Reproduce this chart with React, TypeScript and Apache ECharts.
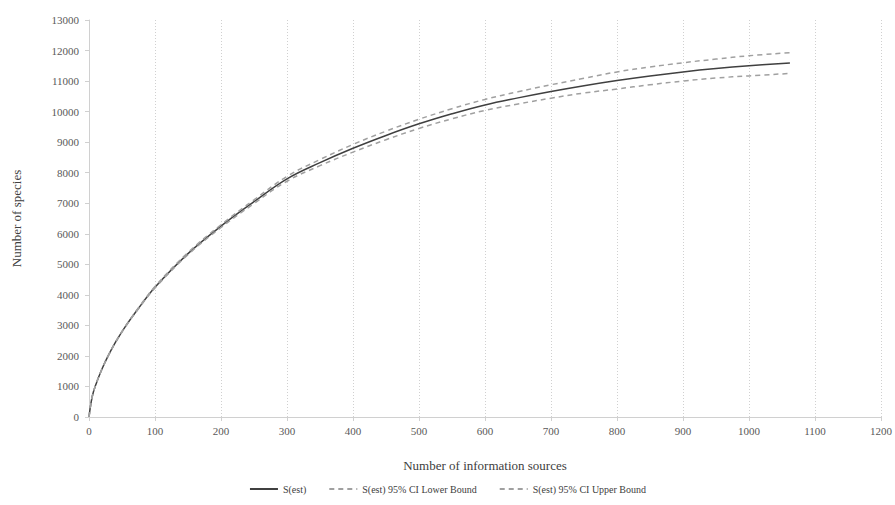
import React, { useEffect, useRef } from "react";
import * as echarts from "echarts";

const xValues = [0, 5, 11, 20, 29, 40, 56, 75, 100, 150, 200, 250, 300, 350, 400, 450, 500, 550, 600, 650, 700, 750, 800, 850, 900, 950, 1000, 1062];
const sEst = [0, 680, 1100, 1590, 2000, 2440, 2990, 3560, 4250, 5350, 6250, 7050, 7800, 8330, 8800, 9220, 9600, 9930, 10220, 10450, 10660, 10850, 11020, 11170, 11300, 11410, 11500, 11590];
const lowerBound = [0, 678, 1097, 1585, 1993, 2430, 2977, 3542, 4225, 5315, 6205, 6990, 7720, 8230, 8675, 9080, 9450, 9765, 10040, 10250, 10440, 10610, 10740, 10880, 11000, 11100, 11170, 11250];
const upperBound = [0, 682, 1103, 1595, 2007, 2450, 3003, 3578, 4275, 5385, 6295, 7110, 7880, 8430, 8925, 9360, 9750, 10095, 10400, 10650, 10880, 11090, 11300, 11460, 11600, 11720, 11830, 11930];

const seriesNames = ["S(est)", "S(est) 95% CI Lower Bound", "S(est) 95% CI Upper Bound"];

const FONT = "'Liberation Serif', 'Times New Roman', serif";

export default function App() {
  const ref = useRef<HTMLDivElement>(null);
  useEffect(() => {
    if (!ref.current) return;
    const chart = echarts.init(ref.current, undefined, { renderer: "svg" });
    const pair = (ys: number[]) => xValues.map((x, i) => [x, ys[i]]);
    chart.setOption({
      animation: false,
      backgroundColor: "#ffffff",
      textStyle: { fontFamily: FONT },
      grid: { left: 89, right: 13, top: 20, bottom: 88, containLabel: false },
      xAxis: {
        type: "value",
        min: 0,
        max: 1200,
        interval: 100,
        name: "Number of information sources",
        nameLocation: "middle",
        nameGap: 42,
        nameTextStyle: { fontFamily: FONT, fontSize: 13, color: "#404040" },
        axisLine: { show: true, lineStyle: { color: "#d0d0d0", width: 1 } },
        axisTick: { show: true, length: 4, lineStyle: { color: "#d0d0d0" } },
        axisLabel: { fontFamily: FONT, fontSize: 11, color: "#595959", margin: 8, formatter: (v: number) => String(v) },
        splitLine: { show: true, lineStyle: { color: "#d0d0d0", type: [1, 2], width: 1 } },
      },
      yAxis: {
        type: "value",
        min: 0,
        max: 13000,
        interval: 1000,
        name: "Number of species",
        nameLocation: "middle",
        nameGap: 66,
        nameTextStyle: { fontFamily: FONT, fontSize: 13, color: "#404040" },
        axisLine: { show: true, lineStyle: { color: "#d0d0d0", width: 1 } },
        axisTick: { show: true, length: 4, lineStyle: { color: "#d0d0d0" } },
        axisLabel: { fontFamily: FONT, fontSize: 11, color: "#595959", margin: 10, formatter: (v: number) => String(v) },
        splitLine: { show: false },
      },
      legend: {
        bottom: 6,
        left: "center",
        itemWidth: 28,
        itemHeight: 8,
        itemGap: 22,
        itemStyle: { opacity: 0 },
        textStyle: { fontFamily: FONT, fontSize: 10, color: "#404040" },
        data: seriesNames,
      },
      series: [
        {
          name: seriesNames[0],
          type: "line",
          smooth: 0.4,
          symbol: "none",
          data: pair(sEst),
          lineStyle: { color: "#404040", width: 1.5 },
          itemStyle: { color: "#404040" },
          z: 3,
        },
        {
          name: seriesNames[1],
          type: "line",
          smooth: 0.4,
          symbol: "none",
          data: pair(lowerBound),
          lineStyle: { color: "#a0a0a0", width: 1.5, type: [5, 4] },
          itemStyle: { color: "#a0a0a0" },
        },
        {
          name: seriesNames[2],
          type: "line",
          smooth: 0.4,
          symbol: "none",
          data: pair(upperBound),
          lineStyle: { color: "#a0a0a0", width: 1.5, type: [5, 4] },
          itemStyle: { color: "#a0a0a0" },
        },
      ],
    });
    return () => chart.dispose();
  }, []);
  return <div ref={ref} style={{ width: 895, height: 505, position: "absolute", left: 0, top: 0 }} />;
}
